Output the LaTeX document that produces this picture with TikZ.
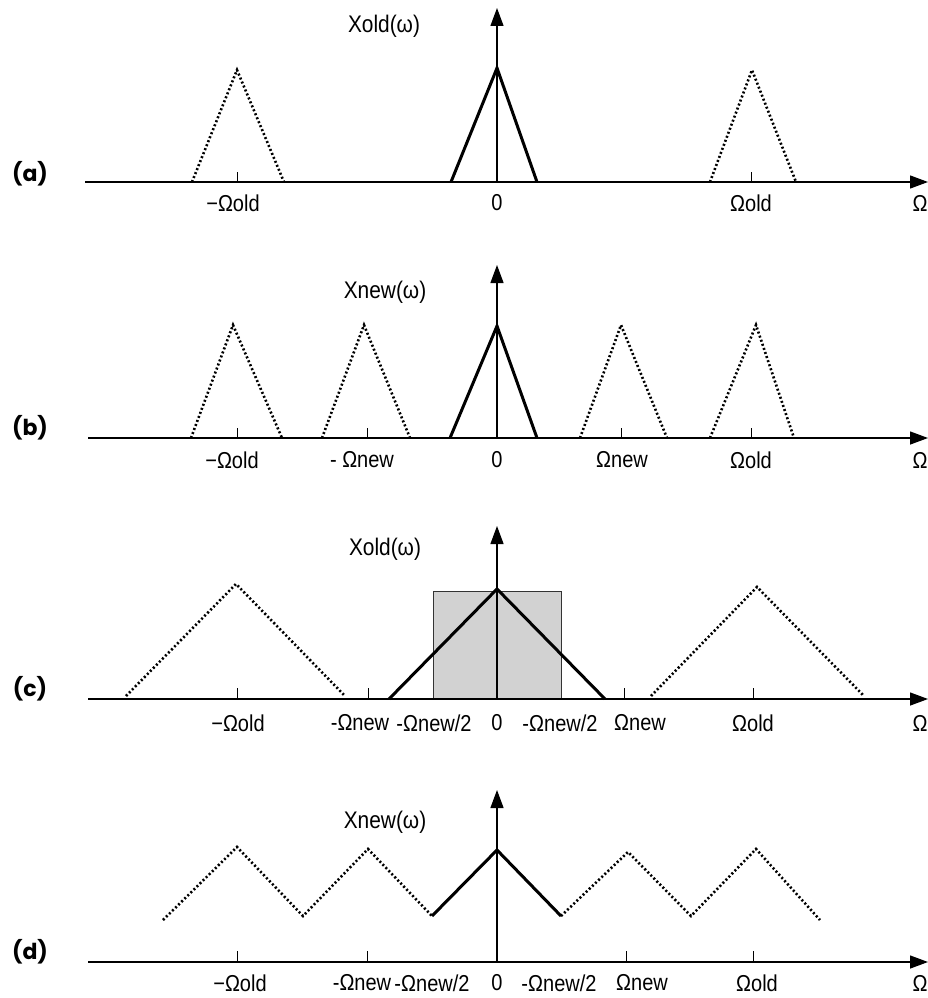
\documentclass[tikz,border=0pt]{standalone}
\usepackage{fontspec}
\setmainfont{Liberation Sans}[FakeStretch=0.87]
\newfontfamily\plabfont{Poppins}
\usetikzlibrary{arrows.meta}
\begin{document}
\begin{tikzpicture}[x=1pt,y=-1pt,
  axis/.style={line width=1.3pt,-{Triangle[length=18pt,width=13pt]}},
  sig/.style={line width=3pt,line join=miter},
  img/.style={line width=2.6pt,dash pattern=on 2pt off 2.3pt},
  tickm/.style={line width=1pt},
  lab/.style={font=\fontsize{23}{27}\selectfont,inner sep=0pt},
  ylab/.style={font=\fontsize{24}{28}\selectfont,inner sep=0pt},
  plab/.style={font=\plabfont\bfseries\fontsize{22}{26}\selectfont,inner sep=0pt},
  box/.style={fill=gray!35,draw=black!80,line width=0.8pt}]
\useasboundingbox (0,0) rectangle (928,998);

% ---------- (a) ----------
\node[plab] (pa) at (30,174) {(a)};
\coordinate (a0) at (85,182); \coordinate (a1) at (928,182);
\coordinate (ab) at (497,182); \coordinate (at) at (497,8);
\draw[axis] (a0) -- (a1);
\draw[axis] (ab) -- (at);
\node[ylab] (ay) at (384,26) {Xold(ω)};
\draw[img] (192,182) -- (237,70) -- (284,182);
\draw[sig] (451,182) -- (497,68) -- (537,182);
\draw[img] (710,182) -- (752,70) -- (796,182);
\draw[tickm] (237,182) -- (237,172);
\draw[tickm] (751,182) -- (751,172);
\node[lab] (al1) at (233,203) {−Ωold};
\node[lab] (al2) at (497,203) {0};
\node[lab] (al3) at (751,203) {Ωold};
\node[lab] (al4) at (920,203) {Ω};

% ---------- (b) ----------
\node[plab] (pb) at (30,428) {(b)};
\coordinate (b0) at (88,438); \coordinate (b1) at (928,438);
\coordinate (bb) at (497,438); \coordinate (bt) at (497,265);
\draw[axis] (b0) -- (b1);
\draw[axis] (bb) -- (bt);
\node[ylab] (by) at (385,292) {Xnew(ω)};
\draw[img] (191,438) -- (233,325) -- (282,438);
\draw[img] (322,438) -- (364,325) -- (410,438);
\draw[sig] (450,438) -- (497,326) -- (537,438);
\draw[img] (580,438) -- (621,325) -- (667,438);
\draw[img] (710,438) -- (756,325) -- (794,438);
\foreach \t in {237,367,621,751} \draw[tickm] (\t,438) -- (\t,428);
\node[lab] (bl1) at (232,460) {−Ωold};
\node[lab] (bl2) at (362,460) {- Ωnew};
\node[lab] (bl3) at (497,460) {0};
\node[lab] (bl4) at (622,460) {Ωnew};
\node[lab] (bl5) at (751,460) {Ωold};
\node[lab] (bl6) at (920,460) {Ω};

% ---------- (c) ----------
\node[plab] (pc) at (30,689) {(c)};
\draw[box] (433,591) rectangle (561,699);
\coordinate (c0) at (88,699); \coordinate (c1) at (928,699);
\coordinate (cb) at (497,699); \coordinate (ct) at (497,526);
\draw[axis] (c0) -- (c1);
\draw[axis] (cb) -- (ct);
\node[ylab] (cy) at (385,549) {Xold(ω)};
\draw[img] (126,696) -- (236,584) -- (345,696);
\draw[sig] (389,699) -- (497,589) -- (605,699);
\draw[img] (651,696) -- (757,587) -- (864,696);
\foreach \t in {237,368,624,753} \draw[tickm] (\t,699) -- (\t,688);
\node[lab] (cl1) at (238,723) {−Ωold};
\node[lab] (cl2) at (360,723) {-Ωnew};
\node[lab] (cl3) at (434,723) {-Ωnew/2};
\node[lab] (cl4) at (497,723) {0};
\node[lab] (cl5) at (560,723) {-Ωnew/2};
\node[lab] (cl6) at (640,723) {Ωnew};
\node[lab] (cl7) at (753,723) {Ωold};
\node[lab] (cl8) at (920,723) {Ω};

% ---------- (d) ----------
\node[plab] (pd) at (30,952) {(d)};
\coordinate (d0) at (88,962); \coordinate (d1) at (928,962);
\coordinate (db) at (497,962); \coordinate (dt) at (497,790);
\draw[axis] (d0) -- (d1);
\draw[axis] (db) -- (dt);
\node[ylab] (dy) at (385,822) {Xnew(ω)};
\draw[img] (163,920) -- (237,847) -- (303,916) -- (368,849) -- (432,916);
\draw[sig] (432,916) -- (497,850) -- (561,916);
\draw[img] (561,916) -- (628,852) -- (691,916) -- (756,849) -- (820,920);
\foreach \t in {237,367,626,753} \draw[tickm] (\t,962) -- (\t,951);
\node[lab] (dl1) at (240,983) {−Ωold};
\node[lab] (dl2) at (362,983) {-Ωnew};
\node[lab] (dl3) at (432,983) {-Ωnew/2};
\node[lab] (dl4) at (497,983) {0};
\node[lab] (dl5) at (559,983) {-Ωnew/2};
\node[lab] (dl6) at (642,983) {Ωnew};
\node[lab] (dl7) at (757,983) {Ωold};
\node[lab] (dl8) at (920,983) {Ω};
\end{tikzpicture}
\end{document}
